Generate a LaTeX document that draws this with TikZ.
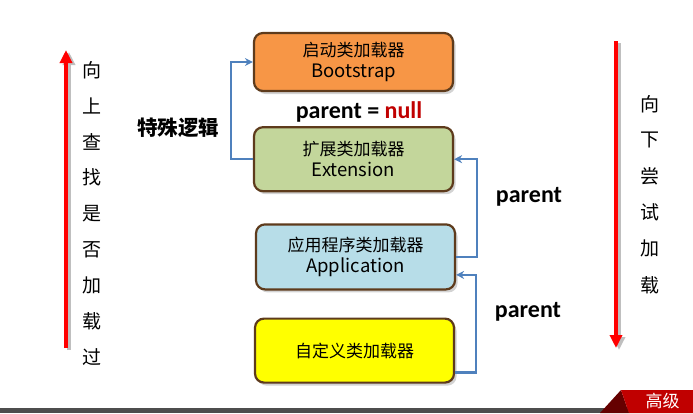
\documentclass[tikz,border=0pt]{standalone}
\usepackage{fontspec}
\setmainfont{Noto Sans CJK SC}
\newfontfamily\tagfont{Carlito}
\usetikzlibrary{positioning,arrows.meta,shadows,calc}
\definecolor{bootfill}{HTML}{F79646}
\definecolor{extfill}{HTML}{C3D69B}
\definecolor{appfill}{HTML}{B7DDE8}
\definecolor{userfill}{HTML}{FFFF00}
\definecolor{loaderedge}{HTML}{5E3B1C}
\definecolor{linkblue}{HTML}{4F81BD}
\definecolor{nullred}{HTML}{C00000}
\definecolor{ribbonred}{HTML}{C00000}
\definecolor{ribbondark}{HTML}{650000}
\definecolor{bargray}{HTML}{4D4D4D}
\newcommand{\latinline}[1]{{\fontsize{18.5}{21}\selectfont #1}}
\tikzset{
  loader/.style={draw=loaderedge, line width=2.2pt, rounded corners=9pt,
    minimum width=199pt, align=center,
    font=\fontsize{17}{21}\selectfont,
    drop shadow={shadow xshift=2.5pt, shadow yshift=-3pt, opacity=.35}},
  parentlink/.style={draw=linkblue, line width=2.5pt, -{Stealth[length=8pt,width=8pt]}},
  searcharrow/.style={draw=red, line width=4pt, -{Triangle[length=13pt,width=12pt]}},
  arrowshadow/.style={draw=black!25, line width=4pt, -{Triangle[length=13pt,width=12pt]}},
  sidechar/.style={font=\fontsize{19}{19}\selectfont},
  tag/.style={font=\tagfont\bfseries\fontsize{24}{24}\selectfont},
}
\begin{document}
\begin{tikzpicture}[x=1pt,y=-1pt]
    \useasboundingbox (0,0) rectangle (693,413);
    \clip (0,0) rectangle (693,413);

    \node [loader, fill=bootfill, minimum height=58pt] (boot) at (353.5,62) {启动类加载器\\\latinline{Bootstrap}};
    \node [loader, fill=extfill, minimum height=64pt, below=34pt of boot] (ext) {扩展类加载器\\\latinline{Extension}};
    \node [loader, fill=appfill, minimum height=65pt, below=31pt of ext, xshift=2pt] (app) {应用程序类加载器\\\latinline{Application}};
    \node [loader, fill=userfill, minimum height=64pt, below=27pt of app, xshift=-1pt] (user) {自定义类加载器};

    \draw [parentlink] (ext.west) -- ++(-22,0) |- (boot.west);
    \draw [parentlink] (app.east) -- ++(21,0) |- (ext.east);
    \draw [parentlink] ($(user.east)+(0,22)$) -- ++(21,0) |- ($(app.east)+(0,18)$);

    \node [tag] (nulltag) at (359,112) {parent = \textcolor{nullred}{null}};
    \node [font=\bfseries\fontsize{20.5}{20.5}\selectfont] (special) at (178,128) {特殊逻辑};
    \node [tag] (exttag) at (529,197) {parent};
    \node [tag] (apptag) at (528,312) {parent};

    \coordinate (upfrom) at (66,348);
    \coordinate (upto) at (66,50);
    \coordinate (downfrom) at (616,41);
    \coordinate (downto) at (616,348);
    \draw [arrowshadow] ([shift={(3,2)}]upfrom) -- ([shift={(3,2)}]upto);
    \draw [arrowshadow] ([shift={(3,2)}]downfrom) -- ([shift={(3,2)}]downto);
    \draw [searcharrow] (upfrom) -- (upto);
    \draw [searcharrow] (downfrom) -- (downto);

    \foreach \ch [count=\i from 0] in {向,上,查,找,是,否,加,载,过}
        \node [sidechar] (up\i) at (92,70+35.9*\i) {\ch};
    \foreach \ch [count=\i from 0] in {向,下,尝,试,加,载}
        \node [sidechar] (down\i) at (650,104+36.2*\i) {\ch};

    \fill [bargray] (0,408) rectangle (693,413);
    \fill [ribbondark] (600,413) -- (621,390) -- (629,413) -- cycle;
    \fill [ribbonred] (621,390) -- (693,390) -- (693,413) -- (629,413) -- cycle;
    \node [anchor=west, white, font=\fontsize{17}{17}\selectfont] (brand) at (642,401) {高级};
\end{tikzpicture}
\end{document}
